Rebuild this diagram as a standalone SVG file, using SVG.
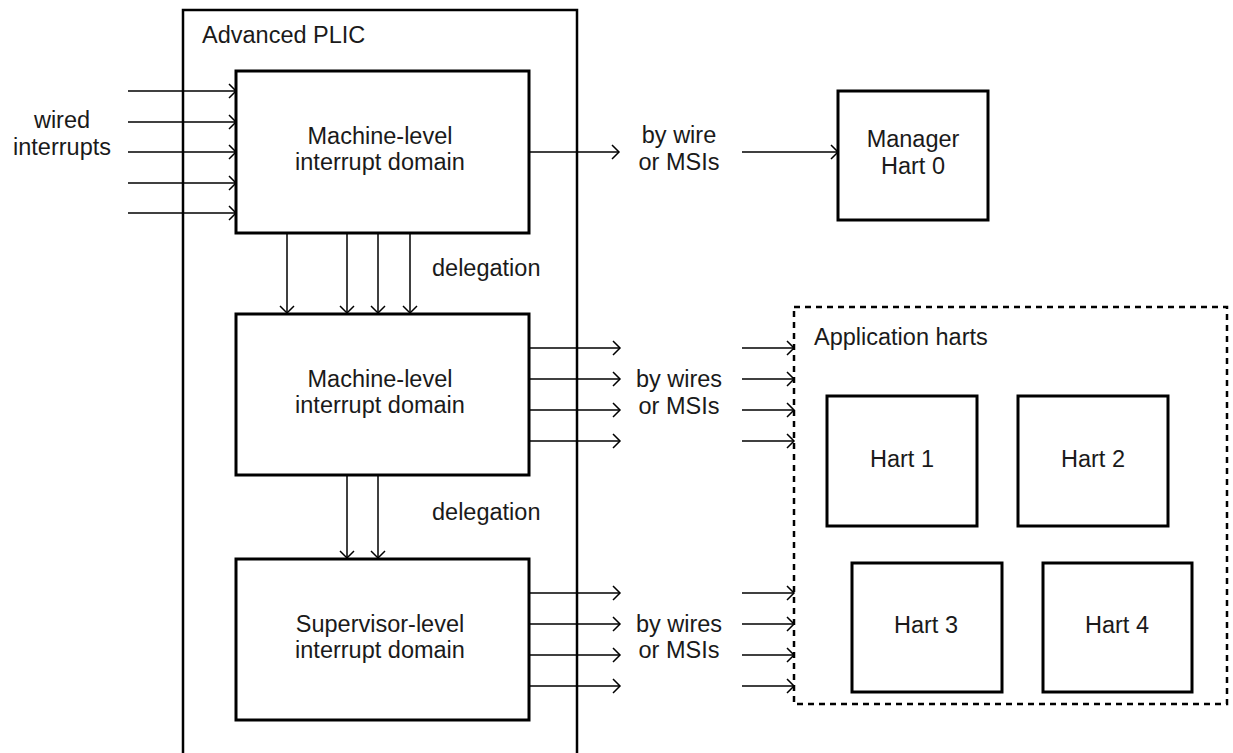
<svg xmlns="http://www.w3.org/2000/svg" width="1233" height="753" viewBox="0 0 1233 753">
<style>
.box{fill:#fff;stroke:#000;stroke-width:3}
.frame{fill:none;stroke:#000;stroke-width:2.5}
.dash{fill:none;stroke:#000;stroke-width:2.5;stroke-dasharray:6 5}
.ln{stroke:#000;stroke-width:1.5;fill:none;marker-end:url(#ah)}
text{font-family:"Liberation Sans",Arial,sans-serif;font-size:23.5px;fill:#1a1a1a}
.c{text-anchor:middle}
</style>
<defs>
<marker id="ah" markerWidth="12" markerHeight="16" refX="10" refY="8" orient="auto" markerUnits="userSpaceOnUse">
<path d="M3,1 L10,8 L3,15" fill="none" stroke="#000" stroke-width="1.5"/>
</marker>
</defs>
<rect width="1233" height="753" fill="#fff"/>
<g id="plic">
<rect class="frame" x="183" y="10" width="394" height="760"/>
<text x="202" y="43">Advanced PLIC</text>
</g>
<g id="connectors">
<line class="ln" x1="128" y1="91" x2="236" y2="91"/>
<line class="ln" x1="128" y1="122" x2="236" y2="122"/>
<line class="ln" x1="128" y1="152" x2="236" y2="152"/>
<line class="ln" x1="128" y1="183" x2="236" y2="183"/>
<line class="ln" x1="128" y1="213" x2="236" y2="213"/>
<line class="ln" x1="529" y1="152" x2="619" y2="152"/>
<line class="ln" x1="742" y1="152" x2="838" y2="152"/>
<line class="ln" x1="287" y1="233" x2="287" y2="313"/>
<line class="ln" x1="347" y1="233" x2="347" y2="313"/>
<line class="ln" x1="378" y1="233" x2="378" y2="313"/>
<line class="ln" x1="410" y1="233" x2="410" y2="313"/>
<line class="ln" x1="529" y1="348" x2="620" y2="348"/>
<line class="ln" x1="529" y1="379" x2="620" y2="379"/>
<line class="ln" x1="529" y1="410" x2="620" y2="410"/>
<line class="ln" x1="529" y1="441" x2="620" y2="441"/>
<line class="ln" x1="742" y1="348" x2="794" y2="348"/>
<line class="ln" x1="742" y1="379" x2="794" y2="379"/>
<line class="ln" x1="742" y1="410" x2="794" y2="410"/>
<line class="ln" x1="742" y1="441" x2="794" y2="441"/>
<line class="ln" x1="347" y1="475" x2="347" y2="558"/>
<line class="ln" x1="378" y1="475" x2="378" y2="558"/>
<line class="ln" x1="529" y1="593" x2="620" y2="593"/>
<line class="ln" x1="529" y1="624" x2="620" y2="624"/>
<line class="ln" x1="529" y1="655" x2="620" y2="655"/>
<line class="ln" x1="529" y1="686" x2="620" y2="686"/>
<line class="ln" x1="742" y1="593" x2="794" y2="593"/>
<line class="ln" x1="742" y1="624" x2="794" y2="624"/>
<line class="ln" x1="742" y1="655" x2="794" y2="655"/>
<line class="ln" x1="742" y1="686" x2="794" y2="686"/>
</g>
<g id="labels">
<text class="c" x="62" y="128">wired</text>
<text class="c" x="62" y="155">interrupts</text>
<text class="c" x="679" y="143">by wire</text>
<text class="c" x="679" y="170">or MSIs</text>
<text x="432" y="276">delegation</text>
<text class="c" x="679" y="387">by wires</text>
<text class="c" x="679" y="414">or MSIs</text>
<text x="432" y="520">delegation</text>
<text class="c" x="679" y="632">by wires</text>
<text class="c" x="679" y="658">or MSIs</text>
</g>
<g id="m1">
<rect class="box" x="236" y="71" width="293" height="162"/>
<text class="c" x="380" y="144">Machine-level</text>
<text class="c" x="380" y="170">interrupt domain</text>
</g>
<g id="m2">
<rect class="box" x="236" y="314" width="293" height="161"/>
<text class="c" x="380" y="387">Machine-level</text>
<text class="c" x="380" y="413">interrupt domain</text>
</g>
<g id="s1">
<rect class="box" x="236" y="559" width="293" height="161"/>
<text class="c" x="380" y="632">Supervisor-level</text>
<text class="c" x="380" y="658">interrupt domain</text>
</g>
<g id="manager">
<rect class="box" x="838" y="91" width="150" height="129"/>
<text class="c" x="913" y="147">Manager</text>
<text class="c" x="913" y="174">Hart 0</text>
</g>
<g id="apps">
<rect class="dash" x="794" y="307" width="433" height="397"/>
<text x="814" y="345">Application harts</text>
</g>
<g id="hart1">
<rect class="box" x="827" y="396" width="150" height="130"/>
<text class="c" x="902" y="467">Hart 1</text>
</g>
<g id="hart2">
<rect class="box" x="1018" y="396" width="150" height="130"/>
<text class="c" x="1093" y="467">Hart 2</text>
</g>
<g id="hart3">
<rect class="box" x="852" y="563" width="150" height="129"/>
<text class="c" x="926" y="633">Hart 3</text>
</g>
<g id="hart4">
<rect class="box" x="1043" y="563" width="149" height="129"/>
<text class="c" x="1117" y="633">Hart 4</text>
</g>
</svg>
